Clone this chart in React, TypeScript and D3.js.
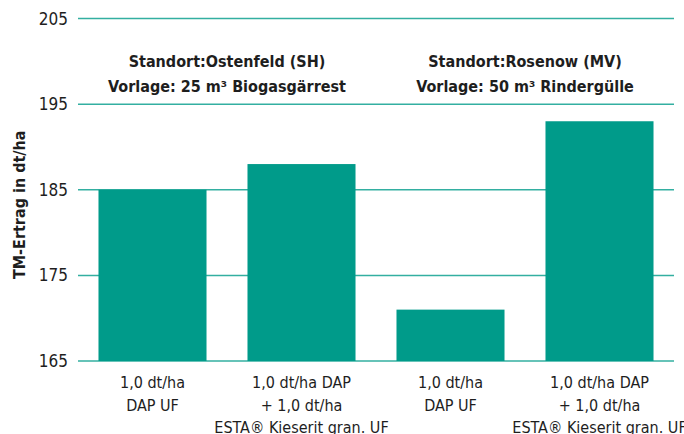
import React from "react";
import * as d3 from "d3";

const categories = ["a1", "a2", "b1", "b2"];
const values = [185, 188, 171, 193];
const categoryLabels = [
  ["1,0 dt/ha", "DAP UF"],
  ["1,0 dt/ha DAP", "+ 1,0 dt/ha", "ESTA® Kieserit gran. UF"],
  ["1,0 dt/ha", "DAP UF"],
  ["1,0 dt/ha DAP", "+ 1,0 dt/ha", "ESTA® Kieserit gran. UF"],
];
const yTicks = [165, 175, 185, 195, 205];
const groupLabels = [
  { cats: ["a1", "a2"], lines: ["Standort:Ostenfeld (SH)", "Vorlage: 25 m³ Biogasgärrest"] },
  { cats: ["b1", "b2"], lines: ["Standort:Rosenow (MV)", "Vorlage: 50 m³ Rindergülle"] },
];
const yTitle = "TM-Ertrag in dt/ha";

const W = 684;
const H = 434;
const FONT = "'Liberation Sans Narrow', 'DejaVu Sans Condensed', 'Roboto Condensed', sans-serif";
const TEAL = "#009B8A";
const TEXT = "#1e1e1e";

export default function App() {
  const x = d3
    .scaleBand<string>()
    .domain(categories)
    .range([78, 674])
    .paddingInner(0.275)
    .paddingOuter(0.1375);
  const y = d3.scaleLinear().domain([165, 205]).range([361, 18.5]);

  return (
    <svg
      width={W}
      height={H}
      style={{ position: "absolute", left: 0, top: 0, display: "block" }}
      fontFamily={FONT}
    >
      <rect x={0} y={0} width={W} height={H} fill="#fff" />
      {yTicks.map((t) => (
        <g key={t}>
          <line x1={78} x2={674} y1={y(t)} y2={y(t)} stroke={TEAL} strokeOpacity={0.8} strokeWidth={1.5} />
          <text x={68} y={y(t) + 6} textAnchor="end" fontSize={17} fill={TEXT}>
            {t}
          </text>
        </g>
      ))}
      {categories.map((c, i) => (
        <rect
          key={c}
          x={x(c)}
          width={x.bandwidth()}
          y={y(values[i])}
          height={y(165) - y(values[i])}
          fill={TEAL}
        />
      ))}
      {categories.map((c, i) => (
        <text key={c} textAnchor="middle" fontSize={16} fill={TEXT}>
          {categoryLabels[i].map((l, j) => (
            <tspan key={j} x={(x(c) as number) + x.bandwidth() / 2} y={388 + j * 22.5}>
              {l}
            </tspan>
          ))}
        </text>
      ))}
      {groupLabels.map((g, i) => {
        const x0 = x(g.cats[0]) as number;
        const x1 = (x(g.cats[1]) as number) + x.bandwidth();
        const cx = (x0 + x1) / 2;
        return (
          <text key={i} textAnchor="middle" fontSize={16} fontWeight="bold" fill={TEXT}>
            {g.lines.map((l, j) => (
              <tspan key={j} x={cx} y={67 + j * 25}>
                {l}
              </tspan>
            ))}
          </text>
        );
      })}
      <text
        transform={`translate(25, ${(y(165) + y(205)) / 2 + 15}) rotate(-90)`}
        textAnchor="middle"
        fontSize={16}
        fontWeight="bold"
        fill={TEXT}
      >
        {yTitle}
      </text>
    </svg>
  );
}
